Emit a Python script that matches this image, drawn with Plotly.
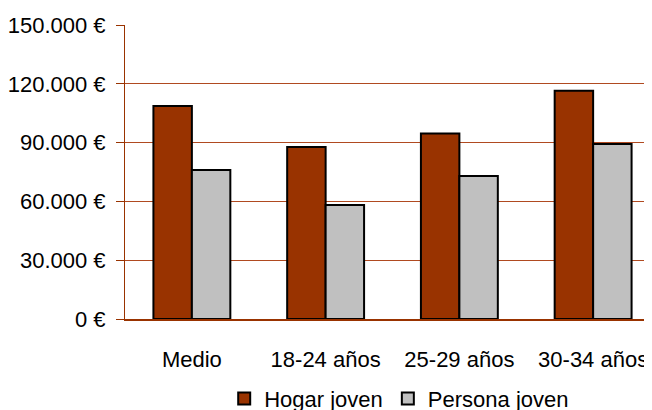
import plotly.graph_objects as go

categorias = ["Medio", "18-24 años", "25-29 años", "30-34 años"]
hogar_joven = [108700, 87800, 94600, 116400]
persona_joven = [76000, 58100, 72900, 89300]
ticks = [0, 30000, 60000, 90000, 120000, 150000]
tick_labels = ["0 €", "30.000 €", "60.000 €", "90.000 €", "120.000 €", "150.000 €"]

fig = go.Figure()
fig.add_bar(x=categorias, y=hogar_joven, name="Hogar joven",
            marker=dict(color="#993300", line=dict(color="black", width=2)))
fig.add_bar(x=categorias, y=persona_joven, name="Persona joven",
            marker=dict(color="#C0C0C0", line=dict(color="black", width=2)))

# la página tiene 8px de margen en el body
fig.update_layout(
    width=652, height=410,
    margin=dict(l=117, r=0, t=17, b=99, autoexpand=False),
    plot_bgcolor="white", paper_bgcolor="white",
    barmode="group", bargap=0.425, bargroupgap=0,
    font=dict(family="Liberation Sans, Arial", size=22, color="black"),
    showlegend=True,
    legend=dict(orientation="h", x=0.6, xanchor="center", xref="container",
                y=-0.2, yanchor="top", font=dict(size=22),
                itemwidth=30, tracegroupgap=0),
)
fig.update_xaxes(range=[-0.5, 3.5], showgrid=False, showline=True,
                 linecolor="#993300", linewidth=2, ticks="",
                 ticklabelstandoff=20)
fig.update_yaxes(range=[0, 150000], tickvals=ticks, ticktext=tick_labels,
                 showgrid=True, gridcolor="#B04A20", gridwidth=1,
                 showline=True, linecolor="#993300", linewidth=1,
                 ticks="outside", ticklen=8, tickcolor="#993300",
                 ticklabelstandoff=6, zeroline=False)

fig.write_html("out.html")
